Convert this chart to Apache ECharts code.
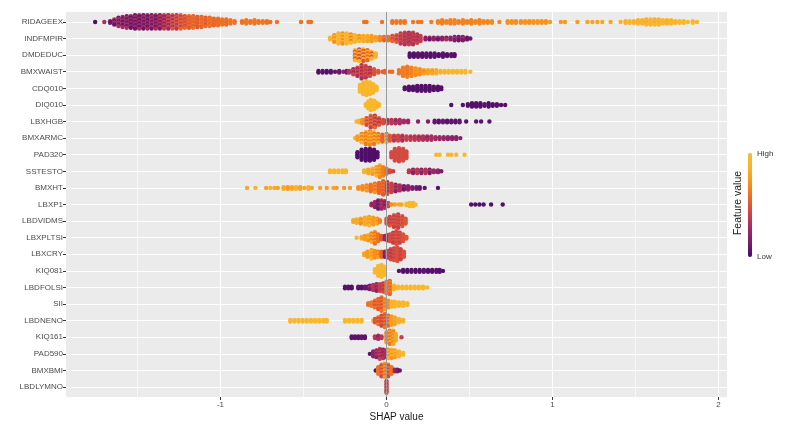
<!DOCTYPE html>
<html>
<head>
    <meta charset="utf-8">
    <title>SHAP summary</title>
    <script src="https://cdn.jsdelivr.net/npm/echarts@6/dist/echarts.min.js"></script>
    <style>
        body { margin: 0; background: #fff; }
        #main { width: 785px; height: 433px; }
    </style>
</head>
<body>
<div id="main"></div>
<script>
    // features, top to bottom
    var features = ['RIDAGEEX', 'INDFMPIR', 'DMDEDUC', 'BMXWAIST', 'CDQ010', 'DIQ010', 'LBXHGB', 'BMXARMC',
        'PAD320', 'SSTESTO', 'BMXHT', 'LBXP1', 'LBDVIDMS', 'LBXPLTSI', 'LBXCRY', 'KIQ081', 'LBDFOLSI',
        'SII', 'LBDNENO', 'KIQ161', 'PAD590', 'BMXBMI', 'LBDLYMNO'];
    var xTicks = [-1, 0, 1, 2];

    // swarm bins: [shap value, dots stacked, feature value (0 low..1 high), feature value of every other dot]
    var RIDAGEEX = [[-1.755,1,0.02],[-1.70,1,0.3],
        [-1.665,2,0.1],[-1.64,4,0.08,0.3],[-1.615,6,0.12,0.3],[-1.59,7,0.08,0.28],[-1.565,8,0.1,0.3],[-1.54,8,0.08,0.25],
        [-1.515,9,0.1,0.3],[-1.49,9,0.06,0.28],[-1.465,9,0.1,0.3],[-1.44,9,0.08,0.25],[-1.415,9,0.12,0.32],[-1.39,9,0.1,0.3],
        [-1.365,9,0.15,0.35],[-1.34,9,0.2,0.4],[-1.315,9,0.25,0.45],[-1.29,9,0.3,0.5],[-1.265,9,0.35,0.5],[-1.24,9,0.4,0.55],
        [-1.215,8,0.45,0.55],[-1.19,8,0.5,0.58],[-1.165,8,0.52,0.6],[-1.14,7,0.55,0.5],[-1.115,7,0.55,0.6],[-1.09,6,0.57,0.5],
        [-1.065,6,0.57,0.6],[-1.04,5,0.58,0.55],[-1.015,5,0.58],[-0.99,4,0.6],[-0.965,4,0.58],[-0.94,3,0.6],[-0.915,2,0.6],
        [-0.87,2,0.6],[-0.845,3,0.62],[-0.82,2,0.6],[-0.795,3,0.62],[-0.77,2,0.6],[-0.745,2,0.62],[-0.72,2,0.6],[-0.70,1,0.6],[-0.66,1,0.6],
        [-0.515,1,0.6],[-0.47,1,0.6],[-0.455,1,0.6],[-0.135,1,0.6],[-0.12,1,0.6],[-0.027,1,0.6],
        [0.035,2,0.62],[0.06,2,0.62],[0.085,2,0.62],[0.11,2,0.62],[0.16,1,0.62],[0.19,1,0.62],[0.21,1,0.62],[0.27,1,0.64],
        [0.31,2,0.65],[0.335,3,0.65],[0.36,2,0.66],[0.385,3,0.65],[0.41,3,0.66],[0.435,2,0.65],[0.46,3,0.66],[0.485,2,0.66],
        [0.51,3,0.66],[0.535,2,0.67],[0.56,3,0.66],[0.585,2,0.67],[0.61,2,0.67],[0.635,2,0.68],[0.68,1,0.68],
        [0.73,2,0.7],[0.755,2,0.7],[0.78,2,0.7],[0.81,2,0.7],[0.835,2,0.72],[0.86,2,0.7],[0.885,2,0.72],[0.91,2,0.72],
        [0.935,2,0.72],[0.96,2,0.72],[0.985,1,0.74],
        [1.05,1,0.74],[1.075,1,0.74],[1.15,1,0.75],[1.21,1,0.78],[1.24,1,0.78],[1.27,1,0.78],[1.30,1,0.8],[1.35,1,0.8],
        [1.41,1,0.85],[1.44,2,0.85],[1.465,2,0.88],[1.49,2,0.85],[1.515,3,0.88],[1.54,3,0.85],[1.565,4,0.82,0.9],
        [1.59,4,0.85,0.9],[1.615,4,0.82,0.9],[1.64,4,0.85],[1.665,3,0.88],[1.69,3,0.85],[1.715,3,0.88],[1.74,2,0.85],
        [1.765,2,0.9],[1.79,2,0.88],[1.815,1,0.9],[1.845,2,0.9],[1.87,1,0.9]];
    var INDFMPIR = [[-0.34,2,0.88],[-0.315,5,0.88,0.7],[-0.29,7,0.86,0.9],[-0.265,7,0.9,0.7],[-0.24,7,0.86,0.9],
        [-0.215,6,0.9,0.65],[-0.19,5,0.86,0.9],[-0.165,4,0.85,0.7],
        [-0.14,4,0.82],[-0.115,4,0.78,0.85],[-0.09,4,0.75],[-0.065,3,0.7,0.8],[-0.04,3,0.68],[-0.015,3,0.65,0.55],
        [0.01,3,0.6],[0.035,4,0.55,0.45],
        [0.06,5,0.5,0.4],[0.085,7,0.45,0.35],[0.11,8,0.42,0.32],[0.135,8,0.4,0.3],[0.16,8,0.42,0.32],[0.185,6,0.4,0.3],[0.205,4,0.38],
        [0.235,2,0.2],[0.26,2,0.25,0.1],[0.285,2,0.2],[0.31,2,0.25,0.1],[0.335,2,0.2],[0.36,2,0.15,0.3],[0.385,2,0.2],
        [0.41,3,0.15,0.3],[0.435,3,0.2,0.1],[0.46,3,0.15,0.3],[0.485,2,0.1],[0.505,1,0.1]];
    var DMDEDUC = [[-0.19,7,0.88,0.5],[-0.165,8,0.85,0.45],[-0.14,8,0.88,0.5],[-0.115,7,0.85,0.55],[-0.09,5,0.88,0.5],[-0.065,3,0.85],
        [0.14,3,0.03],[0.165,3,0.03],[0.19,3,0.05],[0.215,3,0.03],[0.24,3,0.05],[0.265,3,0.03],[0.29,3,0.05],
        [0.315,2,0.03],[0.34,3,0.05],[0.365,2,0.03],[0.39,2,0.05],[0.41,2,0.03]];
    var BMXWAIST = [[-0.41,2,0.03],[-0.385,2,0.05],[-0.36,2,0.03],[-0.335,2,0.05],[-0.31,1,0.08],[-0.285,2,0.1],[-0.26,1,0.2],[-0.24,2,0.15],
        [-0.225,2,0.35],[-0.2,4,0.42,0.25],[-0.175,6,0.45,0.3],[-0.15,9,0.45,0.3],[-0.125,8,0.48,0.35],[-0.1,6,0.45,0.3],
        [-0.075,4,0.48],[-0.05,2,0.5],
        [-0.025,1,0.55],[-0.01,2,0.55],[0.02,1,0.58],[0.035,1,0.58],
        [0.075,3,0.62],[0.1,6,0.64],[0.125,7,0.65,0.6],[0.15,6,0.66],[0.175,5,0.68,0.75],[0.2,4,0.7],[0.225,3,0.75,0.7],
        [0.25,3,0.78],[0.275,3,0.8,0.75],[0.3,3,0.82],[0.325,2,0.85],[0.35,2,0.85],[0.375,2,0.88],[0.4,2,0.86],
        [0.425,2,0.88],[0.45,2,0.9],[0.475,2,0.9],[0.505,1,0.9]];
    var CDQ010 = [[-0.16,5,0.9],[-0.14,8,0.9],[-0.12,9,0.9],[-0.1,8,0.9],[-0.08,6,0.9],[-0.06,3,0.9],
        [0.11,2,0.03],[0.135,3,0.03],[0.16,3,0.03],[0.185,4,0.03],[0.21,4,0.03],[0.235,4,0.03],[0.26,4,0.03],
        [0.285,3,0.03],[0.31,3,0.03],[0.33,2,0.03]];
    var DIQ010 = [[-0.125,2,0.9],[-0.11,5,0.9],[-0.095,7,0.9],[-0.075,6,0.9],[-0.06,4,0.9],[-0.045,2,0.9],
        [0.39,1,0.03],[0.46,1,0.03],[0.49,2,0.03],[0.515,3,0.03],[0.54,3,0.03],[0.565,3,0.03],[0.59,2,0.05],
        [0.615,3,0.03],[0.64,2,0.03],[0.665,2,0.05],[0.69,1,0.03],[0.715,1,0.03]];
    var LBXHGB = [[-0.18,1,0.9],[-0.165,2,0.88],
        [-0.145,3,0.7],[-0.12,5,0.62,0.45],[-0.095,8,0.6,0.4],[-0.07,8,0.55,0.35],[-0.045,5,0.5,0.35],[-0.02,3,0.45],
        [0.005,3,0.38,0.25],[0.03,3,0.35],[0.055,3,0.32,0.2],[0.08,3,0.3],[0.105,2,0.28],[0.13,2,0.25],
        [0.19,1,0.2],[0.25,1,0.15],
        [0.29,2,0.08],[0.315,2,0.05],[0.34,2,0.1],[0.365,2,0.05],[0.39,2,0.08],[0.415,2,0.05],[0.44,2,0.08],
        [0.48,1,0.05],[0.54,1,0.05],[0.57,1,0.05],[0.62,1,0.05]];
    var BMXARMC = [[-0.19,1,0.9],[-0.175,3,0.75],[-0.15,6,0.65,0.85],[-0.125,8,0.62,0.8],[-0.1,9,0.65,0.85],
        [-0.075,8,0.62,0.88],[-0.05,6,0.6,0.8],[-0.025,5,0.55],[0.0,6,0.6,0.9],[0.02,4,0.5],
        [0.045,4,0.45,0.35],[0.07,4,0.42],[0.095,4,0.4,0.3],[0.12,3,0.4],[0.145,3,0.38,0.3],[0.17,3,0.35],
        [0.195,3,0.35,0.25],[0.22,3,0.32],[0.245,3,0.3,0.22],[0.27,3,0.3],[0.295,2,0.28],[0.32,2,0.25],
        [0.345,2,0.25],[0.37,2,0.22],[0.395,2,0.2],[0.42,2,0.2],[0.445,1,0.18]];
    var PAD320 = [[-0.175,4,0.02],[-0.15,7,0.02],[-0.125,8,0.02],[-0.1,8,0.02],[-0.075,7,0.02],[-0.055,4,0.02],
        [0.03,4,0.45],[0.05,8,0.45],[0.075,9,0.45],[0.1,8,0.45],[0.12,5,0.45],
        [0.3,1,0.92],[0.32,1,0.92],[0.37,1,0.92],[0.39,1,0.92],[0.42,1,0.92],[0.47,1,0.92]];
    var SSTESTO = [[-0.34,2,0.88],[-0.315,2,0.88],[-0.29,2,0.88],[-0.265,2,0.88],[-0.245,2,0.88],
        [-0.135,2,0.85],[-0.11,3,0.8],[-0.085,4,0.75,0.88],[-0.06,6,0.7,0.85],[-0.04,8,0.68,0.8],[-0.02,6,0.65],[0.0,4,0.6],
        [0.02,2,0.45],[0.04,1,0.4],
        [0.135,2,0.35],[0.16,3,0.32,0.2],[0.185,3,0.35],[0.21,3,0.3,0.2],[0.235,3,0.32],[0.26,3,0.3,0.15],
        [0.285,2,0.25],[0.31,2,0.2],[0.33,1,0.15]];
    var BMXHT = [[-0.84,1,0.8],[-0.79,1,0.85],[-0.725,1,0.78],[-0.70,1,0.85],[-0.675,1,0.8],[-0.655,1,0.78],
        [-0.62,2,0.8],[-0.595,2,0.75],[-0.57,2,0.8],[-0.545,2,0.85],[-0.52,2,0.78],[-0.495,1,0.8],[-0.47,2,0.85],
        [-0.45,1,0.8],[-0.40,1,0.78],[-0.36,1,0.75],[-0.32,1,0.8],[-0.30,1,0.75],[-0.255,1,0.72],[-0.22,1,0.75],
        [-0.17,2,0.7],[-0.145,3,0.68],[-0.12,4,0.65,0.75],[-0.095,5,0.6],[-0.07,6,0.58,0.7],[-0.045,7,0.55],
        [-0.02,9,0.5,0.6],[0.005,8,0.45,0.3],[0.03,6,0.4],[0.055,5,0.35,0.2],[0.08,4,0.3],[0.105,3,0.25,0.1],
        [0.13,3,0.2],[0.155,2,0.15],[0.18,2,0.12],[0.2,2,0.1],[0.23,1,0.08],[0.31,1,0.05]];
    var LBXP1 = [[-0.09,2,0.25],[-0.07,4,0.2,0.3],[-0.05,6,0.2,0.1],[-0.03,6,0.25,0.35],[-0.01,5,0.3,0.15],[0.01,3,0.45],
        [0.03,1,0.7],[0.05,1,0.75],[0.075,1,0.8],[0.09,1,0.8],
        [0.12,2,0.92],[0.14,3,0.92],[0.16,3,0.92],[0.175,1,0.92],
        [0.51,1,0.03],[0.535,1,0.03],[0.56,1,0.03],[0.585,1,0.03],[0.63,1,0.03],[0.70,1,0.03]];
    var LBDVIDMS = [[-0.2,2,0.8],[-0.18,3,0.82],[-0.155,4,0.8,0.7],[-0.13,5,0.82],[-0.105,6,0.75,0.85],[-0.08,5,0.75],
        [-0.055,4,0.7,0.8],[-0.04,2,0.65],
        [0.0,4,0.5],[0.02,6,0.48,0.38],[0.045,8,0.5,0.4],[0.07,9,0.48,0.4],[0.095,7,0.5,0.42],[0.115,4,0.5]];
    var LBXPLTSI = [[-0.18,1,0.9],[-0.15,2,0.8],[-0.13,3,0.75],[-0.11,4,0.72,0.85],[-0.09,6,0.65,0.8],[-0.07,8,0.6,0.75],
        [-0.05,5,0.6],[-0.03,3,0.5],
        [-0.01,3,0.25],[0.005,4,0.2,0.35],
        [0.02,5,0.45],[0.04,7,0.48,0.38],[0.06,9,0.5,0.42],[0.08,7,0.5,0.4],[0.1,5,0.48],[0.12,2,0.5]];
    var LBXCRY = [[-0.135,2,0.8],[-0.115,4,0.75],[-0.09,6,0.72,0.85],[-0.07,5,0.7],[-0.05,4,0.65,0.75],[-0.03,4,0.55],
        [-0.01,4,0.25,0.15],
        [0.005,5,0.42],[0.025,7,0.45,0.35],[0.045,8,0.48,0.4],[0.065,9,0.48],[0.085,7,0.45,0.4],[0.105,4,0.48]];
    var KIQ081 = [[-0.07,3,0.92],[-0.05,7,0.92],[-0.03,8,0.92],[-0.015,6,0.92],
        [0.075,1,0.03],[0.1,2,0.03],[0.125,2,0.03],[0.15,2,0.05],[0.175,2,0.03],[0.2,2,0.03],[0.225,2,0.05],
        [0.25,2,0.03],[0.275,2,0.03],[0.3,2,0.05],[0.32,2,0.03],[0.34,1,0.03]];
    var LBDFOLSI = [[-0.25,2,0.05],[-0.23,2,0.05],[-0.21,2,0.03],[-0.17,2,0.05],[-0.15,2,0.05],[-0.13,2,0.1],[-0.115,2,0.1],
        [-0.1,3,0.3,0.15],[-0.08,4,0.35],[-0.06,5,0.35,0.2],[-0.04,5,0.4],[-0.02,6,0.45,0.35],
        [0.0,8,0.62],[0.02,9,0.65,0.55],
        [0.045,3,0.85],[0.07,2,0.9],[0.095,2,0.9],[0.12,2,0.9],[0.145,2,0.9],[0.17,2,0.9],[0.195,2,0.9],[0.22,2,0.9],[0.245,1,0.9]];
    var SII = [[-0.11,2,0.6],[-0.09,3,0.62],[-0.07,5,0.6,0.48],[-0.05,7,0.62,0.5],[-0.03,9,0.6,0.48],[-0.01,7,0.62,0.75],[0.01,5,0.7],
        [0.03,4,0.85],[0.05,4,0.88],[0.075,3,0.88],[0.1,3,0.88],[0.125,2,0.9]];
    var LBDNENO = [[-0.58,2,0.92],[-0.555,2,0.92],[-0.53,2,0.92],[-0.505,2,0.92],[-0.48,2,0.92],[-0.455,2,0.92],
        [-0.43,2,0.92],[-0.405,2,0.92],[-0.38,2,0.92],[-0.36,2,0.92],
        [-0.25,2,0.9],[-0.225,2,0.9],[-0.2,2,0.9],[-0.175,2,0.9],[-0.15,2,0.9],[-0.08,1,0.88],
        [-0.07,3,0.5],[-0.05,5,0.45,0.6],[-0.03,7,0.42,0.55],[-0.01,9,0.48,0.62],[0.01,7,0.55,0.7],
        [0.03,6,0.75],[0.05,5,0.8],[0.075,3,0.85],[0.1,2,0.85]];
    var KIQ161 = [[-0.21,2,0.05],[-0.19,2,0.05],[-0.17,2,0.05],[-0.15,2,0.08],[-0.13,2,0.05],
        [-0.07,2,0.35],[-0.05,3,0.3,0.2],[-0.03,2,0.35],
        [0.0,7,0.75,0.6],[0.02,9,0.78,0.62],[0.04,9,0.8,0.65],[0.055,5,0.8],
        [0.09,1,0.4]];
    var PAD590 = [[-0.1,1,0.05],[-0.08,4,0.2],[-0.06,5,0.2,0.35],[-0.04,7,0.25,0.4],[-0.02,6,0.2,0.35],[-0.005,5,0.3],
        [0.01,6,0.7,0.85],[0.03,6,0.72,0.88],[0.05,5,0.75,0.9],[0.075,4,0.85],[0.1,2,0.9]];
    var BMXBMI = [[-0.065,1,0.05],[-0.05,5,0.6],[-0.03,8,0.62,0.45],[-0.01,9,0.6,0.75],[0.01,8,0.62,0.45],[0.03,5,0.6],
        [0.05,2,0.25],[0.065,2,0.15],[0.08,1,0.1]];
    var LBDLYMNO = [[0.0,8,0.35,0.5]];

    var swarms = [RIDAGEEX, INDFMPIR, DMDEDUC, BMXWAIST, CDQ010, DIQ010, LBXHGB, BMXARMC, PAD320, SSTESTO, BMXHT,
        LBXP1, LBDVIDMS, LBXPLTSI, LBXCRY, KIQ081, LBDFOLSI, SII, LBDNENO, KIQ161, PAD590, BMXBMI, LBDLYMNO];

    // stack the dots of each bin around the feature's row (beeswarm layout)
    var STEP = 0.1;
    var points = [];
    swarms.forEach(function (bins, row) {
        bins.forEach(function (b, i) {
            var n = b[1];
            for (var k = 0; k < n; k++) {
                var fv = (b[3] != null && (k + i) % 2 === 1) ? b[3] : b[2];
                points.push([b[0], row + (k - (n - 1) / 2) * STEP, fv]);
            }
        });
    });

    var font = 'Liberation Sans, Arial, sans-serif';
    var chart = echarts.init(document.getElementById('main'));
    var option = {
        animation: false,
        textStyle: {fontFamily: font},
        grid: [
            {left: 66, right: 58, top: 12, bottom: 36, show: true, backgroundColor: '#EBEBEB', borderWidth: 0, z: -1},
            {left: 66, right: 58, top: 21.96, bottom: 45.96},
            {left: 54.5, right: 66.5, top: 12, bottom: 36}
        ],
        xAxis: [
            {gridIndex: 0, type: 'value', min: 0, max: 1, name: 'SHAP value', nameLocation: 'middle', nameGap: 15,
                nameTextStyle: {fontSize: 10, color: '#1a1a1a'},
                axisLine: {show: false}, axisTick: {show: false}, axisLabel: {show: false}, splitLine: {show: false}},
            {gridIndex: 1, type: 'value', show: false},
            {gridIndex: 2, type: 'value', min: -2, max: 2, interval: 1, position: 'bottom',
                axisLine: {show: false, onZero: false},
                axisTick: {length: 3, lineStyle: {color: '#333'}, customValues: xTicks},
                axisLabel: {fontSize: 8, color: '#4D4D4D', margin: 4, customValues: xTicks},
                splitLine: {lineStyle: {color: '#ffffff', width: 1.1}},
                minorTick: {show: false, splitNumber: 2},
                minorSplitLine: {show: true, lineStyle: {color: '#ffffff', width: 0.6}}}
        ],
        yAxis: [
            {gridIndex: 0, type: 'value', show: false},
            {gridIndex: 1, type: 'category', data: features, inverse: true, boundaryGap: false,
                axisLine: {show: false, onZero: false},
                axisTick: {length: 3, interval: 0, lineStyle: {color: '#333'}},
                axisLabel: {fontSize: 8, color: '#4D4D4D', margin: 3, interval: 0},
                splitLine: {show: true, interval: 0, lineStyle: {color: '#ffffff', width: 1.1}}},
            {gridIndex: 2, type: 'value', min: -0.6, max: 22.6, inverse: true, show: false}
        ],
        visualMap: {
            type: 'continuous', seriesIndex: 0, dimension: 2, min: 0, max: 1,
            calculable: false, orient: 'vertical', left: 748, top: 153, padding: 0,
            itemWidth: 4, itemHeight: 104, text: null,
            inRange: {color: ['#4a0c6b', '#781c6d', '#a52c60', '#cf4446', '#ed6925', '#f7931b', '#f9b42a', '#f9bd2e']}
        },
        graphic: [
            {type: 'text', x: 757, y: 154, style: {text: 'High', fontSize: 8, fill: '#333', textVerticalAlign: 'middle', fontFamily: font}},
            {type: 'text', x: 757, y: 257, style: {text: 'Low', fontSize: 8, fill: '#333', textVerticalAlign: 'middle', fontFamily: font}},
            {type: 'text', x: 738, y: 203, rotation: Math.PI / 2,
                style: {text: 'Feature value', fontSize: 10.5, fill: '#1a1a1a', textAlign: 'center', textVerticalAlign: 'middle', fontFamily: font}}
        ],
        series: [
            {type: 'scatter', xAxisIndex: 2, yAxisIndex: 2, data: points, symbolSize: 4.4, z: 3,
                itemStyle: {opacity: 1}, emphasis: {disabled: true}},
            {type: 'scatter', xAxisIndex: 2, yAxisIndex: 2, data: [], z: 2,
                markLine: {silent: true, symbol: ['none', 'none'], label: {show: false},
                    lineStyle: {color: '#9a9a9a', width: 1, type: 'solid'},
                    data: [{xAxis: 0}]}}
        ]
    };
    chart.setOption(option);
</script>
</body>
</html>
